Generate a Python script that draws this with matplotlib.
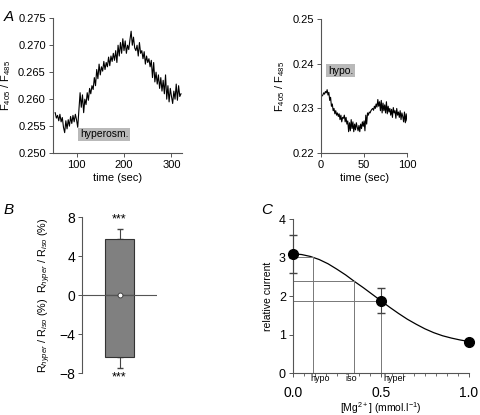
import numpy as np
import matplotlib
matplotlib.use("Agg")
import matplotlib.pyplot as plt

# --- data ---
# A, left: hyperosmotic trace (sampled every 2.5 s from 55 s)
hyper_start, hyper_step = 55, 2.5
hyper_ratio = [
    0.2575, 0.2565, 0.2570, 0.2560, 0.2572, 0.2558, 0.2566, 0.2548, 0.2538, 0.2560,
    0.2545, 0.2562, 0.2550, 0.2568, 0.2555, 0.2570, 0.2558, 0.2572, 0.2562, 0.2548,
    0.2580, 0.2612, 0.2585, 0.2608, 0.2575, 0.2600, 0.2590, 0.2612, 0.2598, 0.2620,
    0.2610, 0.2625, 0.2618, 0.2640, 0.2625, 0.2655, 0.2638, 0.2665, 0.2645, 0.2660,
    0.2652, 0.2670, 0.2655, 0.2668, 0.2660, 0.2678, 0.2662, 0.2680, 0.2670, 0.2685,
    0.2672, 0.2690, 0.2668, 0.2700, 0.2680, 0.2705, 0.2685, 0.2712, 0.2690, 0.2708,
    0.2685, 0.2700, 0.2692, 0.2710, 0.2726, 0.2700, 0.2715, 0.2695, 0.2690, 0.2700,
    0.2680, 0.2705, 0.2685, 0.2690, 0.2675, 0.2688, 0.2665, 0.2680, 0.2668, 0.2675,
    0.2660, 0.2672, 0.2640, 0.2668, 0.2632, 0.2650, 0.2628, 0.2645, 0.2620, 0.2640,
    0.2615, 0.2635, 0.2610, 0.2645, 0.2600, 0.2625, 0.2595, 0.2620, 0.2605, 0.2592,
    0.2615, 0.2600, 0.2628, 0.2598, 0.2625, 0.2605, 0.2610,
]

# A, right: hypotonic trace (sampled every 1 s from 0 s)
hypo_start, hypo_step = 0, 1
hypo_ratio = [
    0.2325, 0.2328, 0.2330, 0.2335, 0.2332, 0.2338, 0.2335, 0.2342, 0.2330, 0.2336,
    0.2318, 0.2325, 0.2305, 0.2310, 0.2295, 0.2300, 0.2288, 0.2295, 0.2285, 0.2290,
    0.2282, 0.2288, 0.2275, 0.2285, 0.2270, 0.2280, 0.2278, 0.2285, 0.2270, 0.2280,
    0.2265, 0.2272, 0.2248, 0.2268, 0.2250, 0.2275, 0.2255, 0.2270, 0.2248, 0.2265,
    0.2252, 0.2268, 0.2258, 0.2250, 0.2262, 0.2248, 0.2265, 0.2255, 0.2270, 0.2260,
    0.2272, 0.2250, 0.2285, 0.2265, 0.2290, 0.2285, 0.2292, 0.2290, 0.2295, 0.2298,
    0.2300, 0.2296, 0.2305, 0.2300, 0.2310, 0.2303, 0.2320, 0.2305, 0.2315, 0.2295,
    0.2318, 0.2290, 0.2312, 0.2295, 0.2308, 0.2290, 0.2315, 0.2288, 0.2305, 0.2292,
    0.2300, 0.2285, 0.2298, 0.2280, 0.2302, 0.2290, 0.2295, 0.2278, 0.2300, 0.2285,
    0.2292, 0.2280, 0.2295, 0.2275, 0.2290, 0.2282, 0.2270, 0.2292, 0.2268, 0.2288,
    0.2272,
]

# B: relative change (%)
b_values = [5.8, -6.3]
b_errors = [1.0, 1.2]

# C: relative current vs [Mg2+]
mg_points = [0.0, 0.5, 1.0]
current_points = [3.1, 1.88, 0.82]
current_err = [0.5, 0.32, 0.0]
fit_mg = [0.0, 0.05, 0.1, 0.15, 0.2, 0.25, 0.3, 0.35, 0.4, 0.45, 0.5,
          0.55, 0.6, 0.65, 0.7, 0.75, 0.8, 0.85, 0.9, 0.95, 1.0]
fit_current = [3.10, 3.08, 3.03, 2.95, 2.84, 2.70, 2.55, 2.38, 2.22, 2.05, 1.88,
               1.71, 1.55, 1.40, 1.27, 1.15, 1.05, 0.97, 0.91, 0.86, 0.82]
cond_names = ["hypo", "iso", "hyper"]
cond_mg = [0.114, 0.35, 0.5]
cond_current = [3.01, 2.38, 1.88]

plt.rcParams['font.family'] = ['Liberation Sans', 'DejaVu Sans']
plt.rcParams['mathtext.fontset'] = 'custom'
plt.rcParams['mathtext.rm'] = 'Liberation Sans'
plt.rcParams['mathtext.it'] = 'Liberation Sans:italic'
spine_c = '#555555'

fig = plt.figure(figsize=(4.8, 4.15), dpi=100)


def style(ax, fs=8):
    for s in ['top', 'right']:
        ax.spines[s].set_visible(False)
    for s in ['left', 'bottom']:
        ax.spines[s].set_color(spine_c)
        ax.spines[s].set_linewidth(0.8)
    ax.tick_params(direction='out', length=3, width=0.7, color=spine_c,
                   labelsize=fs, pad=2)


# ---- A left ----
ax1 = fig.add_axes([0.110, 0.631, 0.269, 0.325])
t1 = hyper_start + hyper_step * np.arange(len(hyper_ratio))
ax1.plot(t1, hyper_ratio, color='black', lw=0.8)
ax1.set_xlim(50, 322)
ax1.set_ylim(0.250, 0.275)
ax1.set_xticks([100, 200, 300])
ax1.set_yticks([0.250, 0.255, 0.260, 0.265, 0.270, 0.275])
ax1.set_yticklabels(['0.250', '0.255', '0.260', '0.265', '0.270', '0.275'])
style(ax1)
ax1.set_xlabel('time (sec)', fontsize=8, labelpad=2)
ax1.set_ylabel('F$_{405}$ / F$_{485}$', fontsize=8, labelpad=4)
ax1.text(107, 0.2535, 'hyperosm.', fontsize=7.5, va='center', ha='left',
         bbox=dict(boxstyle='square,pad=0.15', fc='#b9b9b9', ec='none'))
fig.text(0.008, 0.975, 'A', fontsize=11, style='italic', va='top')

# ---- A right ----
ax2 = fig.add_axes([0.669, 0.631, 0.179, 0.323])
t2 = hypo_start + hypo_step * np.arange(len(hypo_ratio))
ax2.plot(t2, hypo_ratio, color='black', lw=0.8)
ax2.set_xlim(0, 100)
ax2.set_ylim(0.22, 0.25)
ax2.set_xticks([0, 50, 100])
ax2.set_yticks([0.22, 0.23, 0.24, 0.25])
style(ax2)
ax2.set_xlabel('time (sec)', fontsize=8, labelpad=2)
ax2.set_ylabel('F$_{405}$ / F$_{485}$', fontsize=8, labelpad=4)
ax2.text(8, 0.2384, 'hypo.', fontsize=7.5, va='center', ha='left',
         bbox=dict(boxstyle='square,pad=0.15', fc='#b9b9b9', ec='none'))

# ---- B ----
ax3 = fig.add_axes([0.171, 0.101, 0.156, 0.376])
ax3.bar([0.5, 0.5], b_values, width=0.4, color='#808080', edgecolor='#333333',
        linewidth=0.8, zorder=2)
ax3.errorbar([0.5], [b_values[0]], yerr=[[0], [b_errors[0]]], fmt='none',
             ecolor='#444444', elinewidth=0.8, capsize=2.5, zorder=1)
ax3.errorbar([0.5], [b_values[1]], yerr=[[b_errors[1]], [0]], fmt='none',
             ecolor='#444444', elinewidth=0.8, capsize=2.5, zorder=1)
ax3.axhline(0, color=spine_c, lw=0.8, zorder=3)
ax3.plot([0.5], [0], 'o', ms=3.5, mfc='white', mec='#333333', mew=0.6, zorder=4)
ax3.text(0.5, b_values[0] + b_errors[0] + 0.3, '***', ha='center', va='bottom',
         fontsize=9)
ax3.text(0.5, -8.4, '***', ha='center', va='center', fontsize=9, clip_on=False)
ax3.set_xlim(0, 1)
ax3.set_ylim(-8, 8)
ax3.set_yticks([-8, -4, 0, 4, 8])
ax3.set_xticks([])
style(ax3, fs=10)
ax3.spines['bottom'].set_visible(False)
ax3.text(-0.5, -4.1, 'R$_{hyper}$ / R$_{iso}$ (%)', rotation=90, fontsize=7.8,
         ha='center', va='center', transform=ax3.get_yaxis_transform())
ax3.text(-0.5, 4.1, 'R$_{hyper}$ / R$_{iso}$ (%)', rotation=90, fontsize=7.8,
         ha='center', va='center', transform=ax3.get_yaxis_transform())
fig.text(0.008, 0.51, 'B', fontsize=11, style='italic', va='top')

# ---- C ----
ax4 = fig.add_axes([0.610, 0.101, 0.367, 0.371])
ax4.plot(fit_mg, fit_current, color='black', lw=0.9)
for xm, yc in zip(cond_mg, cond_current):
    ax4.plot([xm, xm], [0, yc], color='#777777', lw=0.7)
    ax4.plot([0, xm], [yc, yc], color='#777777', lw=0.7)
ax4.errorbar(mg_points, current_points, yerr=current_err, fmt='o', ms=7,
             color='black', ecolor='#444444', elinewidth=0.8, capsize=3,
             clip_on=False, zorder=5)
ax4.set_xlim(0, 1)
ax4.set_ylim(0, 4)
ax4.set_xticks([0, 0.5, 1.0])
ax4.set_xticklabels(['0.0', '0.5', '1.0'])
ax4.set_xticks(np.arange(1, 16) / 16, minor=True)
ax4.set_yticks([0, 1, 2, 3, 4])
style(ax4, fs=10)
ax4.tick_params(axis='x', pad=6.5)
ax4.tick_params(axis='x', which='minor', length=2, color=spine_c)
ax4.tick_params(axis='y', labelsize=9)
ax4.set_ylabel('relative current', fontsize=7.5, labelpad=4)
ax4.set_xlabel('[Mg$^{2+}$] (mmol.l$^{-1}$)', fontsize=7.5, labelpad=0)
label_x = [0.10, 0.33, 0.515]
label_ha = ['left', 'center', 'left']
for name, lx, ha in zip(cond_names, label_x, label_ha):
    ax4.text(lx, -0.03, name, fontsize=6.5, ha=ha, va='top')
fig.text(0.545, 0.51, 'C', fontsize=11, style='italic', va='top')

fig.savefig('out.png', dpi=100)
